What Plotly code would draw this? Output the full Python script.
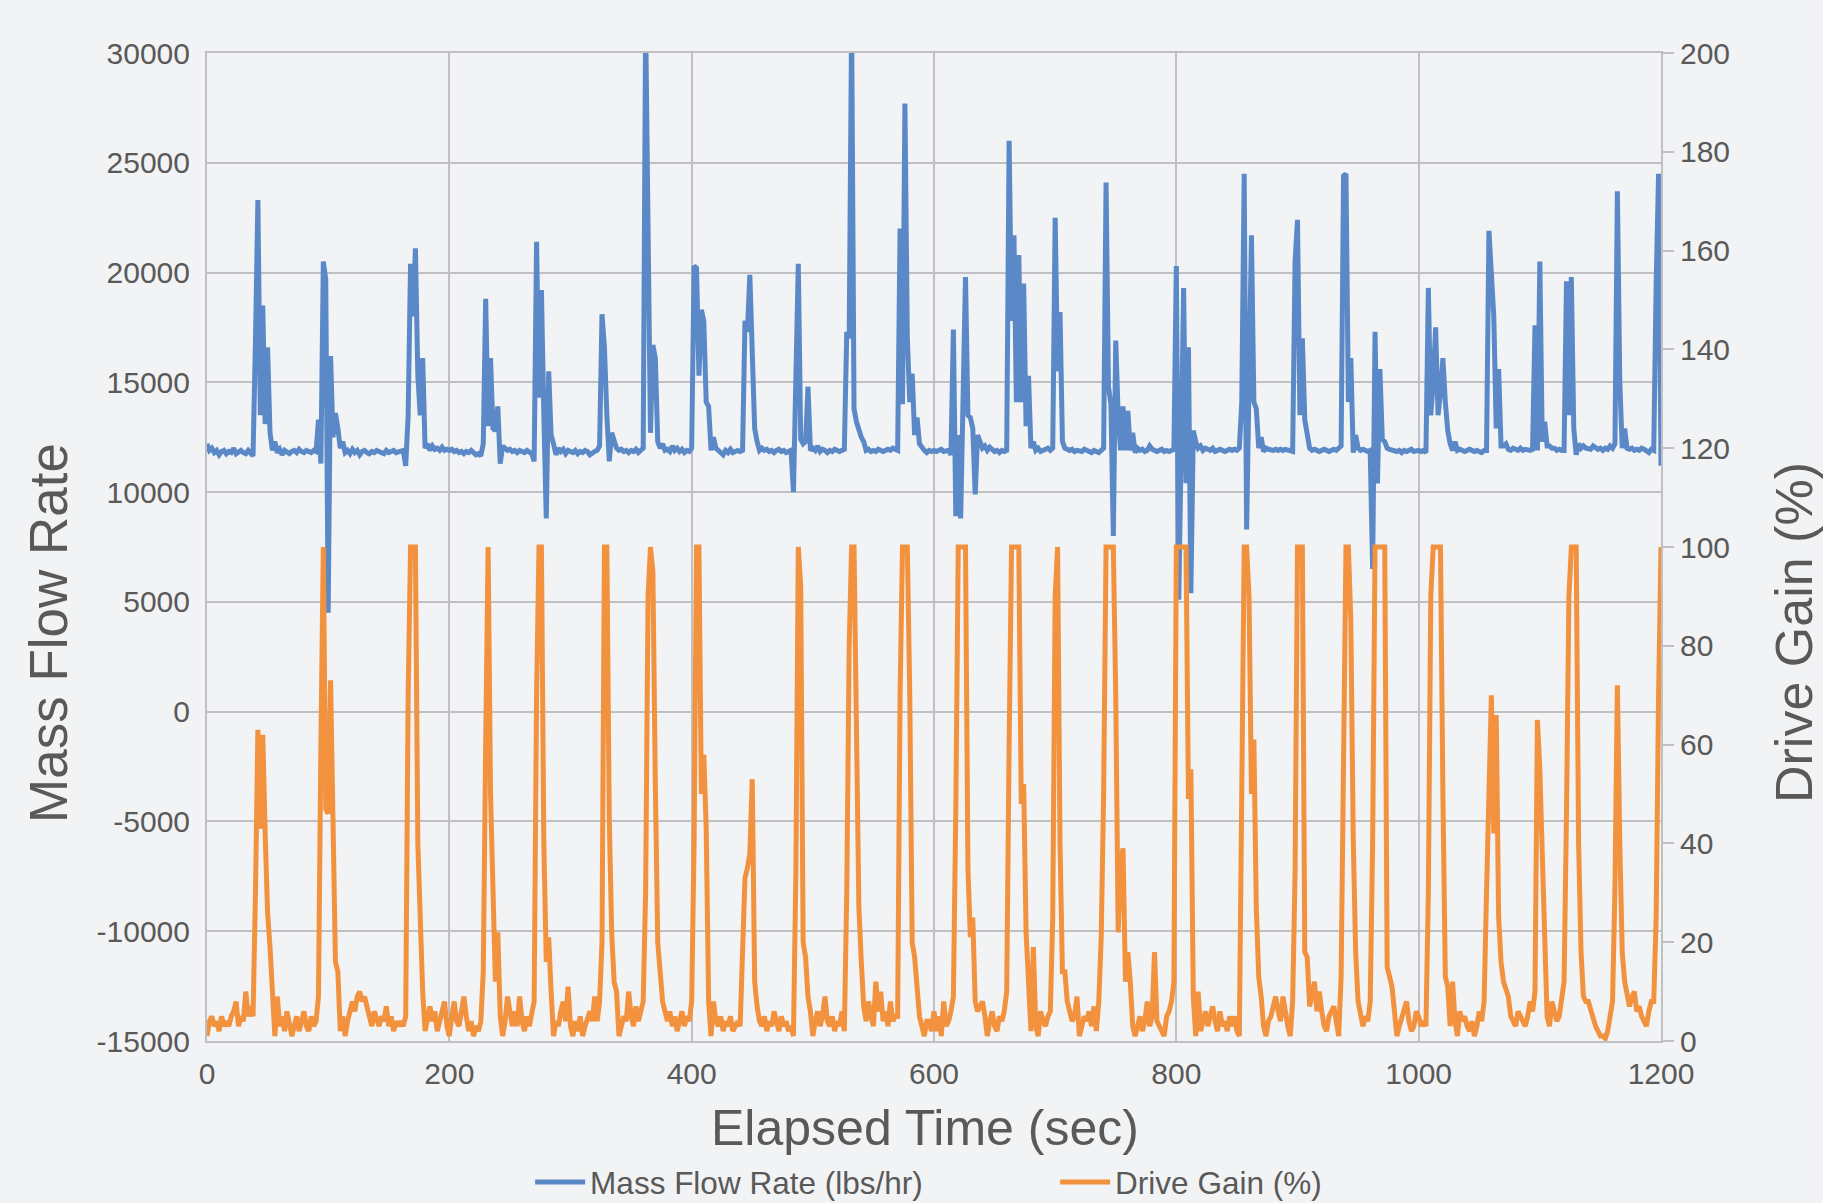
import plotly.graph_objects as go

# ---------------- data ----------------
elapsed_sec = list(range(0, 1201, 2))

mass_flow_lbs_hr = [
    12200, 11900, 12000, 11800, 11900, 11700, 11850, 11900, 11750, 11850,
    11800, 12000, 11750, 11850, 11900, 11800, 11750, 11900, 11800, 11650,
    16900, 23300, 13500, 18500, 13100, 16600, 12700, 11900, 12300, 11800,
    11950, 11700, 11900, 11850, 11750, 11850, 11900, 11800, 11950, 11850,
    11800, 11900, 11850, 11800, 11900, 11850, 13300, 11300, 20500, 19700,
    4500, 16200, 12500, 13600, 12900, 12000, 12300, 11800, 11900, 11750,
    11950, 11800, 11900, 11700, 11850, 11900, 11800, 11750, 11850, 11800,
    11900, 11850, 11800, 11750, 11900, 11800, 11850, 11900, 11800, 11850,
    11850, 11900, 11200, 13500, 20400, 18000, 21100, 15300, 13500, 16100,
    12000, 12200, 11900, 12100, 11950, 12000, 11900, 12050, 11900, 11950,
    11900, 11950, 11850, 11900, 11800, 11850, 11750, 11850, 11800, 11900,
    11800, 11700, 11750, 11650, 12200, 18800, 13000, 16100, 12900, 12800,
    13900, 11300, 12100, 12000, 11900, 11950, 11850, 11900, 11800, 11900,
    11850, 11800, 11900, 11850, 11750, 11400, 21400, 14300, 19200, 13500,
    8800, 15500, 12600, 12200, 11700, 12000, 11850, 11950, 11750, 11900,
    11850, 11800, 11900, 11750, 11850, 11800, 11900, 11850, 11700, 11800,
    11850, 11900, 12100, 18100, 16600, 13500, 11400, 12700, 12400, 12000,
    11900, 11950, 11850, 11900, 11800, 11900, 11850, 11950, 11800, 11900,
    12000, 31500, 20800, 12700, 16700, 16100, 12300, 12000, 12200, 11900,
    11950, 11850, 12100, 11900, 12000, 11850, 11950, 11800, 11900, 11850,
    12000, 20300, 20200, 15300, 18300, 17800, 14100, 13900, 11900, 12500,
    12000, 11900, 11850, 11700, 11900, 11800, 11950, 11800, 11850, 11900,
    11850, 11900, 17800, 17300, 19900, 15200, 12900, 12300, 11900, 12000,
    11900, 11950, 11850, 11900, 11800, 11900, 11950, 11850, 11900, 11800,
    11850, 11900, 10000, 15000, 20400, 12400, 12200, 12300, 14800, 11900,
    12000, 11900, 12100, 11850, 11950, 11900, 11800, 11900, 11850, 11950,
    11900, 11850, 11900, 11950, 17300, 17000, 31500, 13800, 13200, 12800,
    12500, 12300, 11900, 11950, 11850, 11900, 11850, 11950, 11900, 11850,
    11900, 11950, 11900, 12000, 11950, 11900, 22000, 14000, 27700, 17000,
    14100, 15400, 12600, 13400, 12200, 12000, 11900, 11800, 11900, 11850,
    11900, 11850, 11900, 11950, 11850, 11900, 11900, 11700, 17400, 8900,
    12600, 8800, 15400, 19800, 13500, 13400, 12900, 9900, 12600, 12200,
    12000, 12100, 11900, 12050, 11950, 11850, 11900, 11800, 11900, 11850,
    11900, 26000, 17800, 21700, 14100, 20800, 14100, 19500, 13000, 15300,
    12000, 12300, 11900, 12000, 11850, 11900, 11950, 12000, 11900, 12000,
    22500, 15500, 18200, 12300, 12000, 11950, 11900, 11950, 11850, 11900,
    11900, 11850, 11950, 11900, 11850, 11800, 11900, 11850, 11800, 11900,
    12000, 24100, 14800, 14000, 8000, 16900, 13500, 11900, 13900, 11900,
    13700, 11900, 12700, 11800, 12000, 11900, 11950, 11850, 11900, 12100,
    11950, 11900, 11850, 11900, 11950, 11850, 11900, 11850, 11900, 11950,
    20300, 5100, 12000, 19300, 10400, 16600, 5400, 12800, 12300, 12000,
    12100, 11900, 12000, 11950, 11900, 12000, 11850, 11900, 11950, 11900,
    11850, 11900, 11950, 11900, 11950, 11900, 12000, 14100, 24500, 8300,
    14100, 21700, 14100, 13800, 12000, 12500, 11850, 12000, 11950, 11900,
    11900, 11950, 11900, 11950, 11900, 11950, 11900, 11900, 11850, 20500,
    22400, 13500, 17000, 13300, 12600, 12000, 11900, 11950, 11900, 11850,
    11900, 11950, 11900, 11850, 11900, 11950, 11900, 12000, 12100, 24400,
    24500, 14100, 16100, 11800, 12600, 12000, 11900, 11950, 11900, 11850,
    11900, 6500, 17300, 10400, 15600, 12400, 12300, 12000, 11950, 11900,
    11900, 11850, 11900, 11800, 11900, 11850, 11900, 11950, 11850, 11900,
    11900, 11850, 11900, 11800, 19300, 13500, 15000, 17500, 13500, 14500,
    16100, 14100, 12800, 12200, 11900, 12300, 11900, 11950, 11900, 11850,
    11900, 11950, 11900, 11850, 11900, 11850, 11800, 11900, 11900, 21900,
    19500, 18000, 12900, 15600, 12100, 12100, 12200, 11950, 11900, 12000,
    11950, 11900, 12000, 11900, 11950, 11900, 11900, 11950, 17600, 11900,
    20500, 12300, 13200, 12100, 12100, 12000, 12000, 11900, 11950, 11900,
    11900, 19600, 13500, 19800, 12900, 11700, 12200, 12000, 12100, 12000,
    12000, 11950, 12100, 12000, 11950, 12000, 11900, 12000, 11950, 12100,
    12000, 12200, 23700, 15000, 12000, 12900, 12000, 11950, 12000, 11900,
    11950, 11900, 12000, 11950, 11900, 11800, 11950, 11900, 19500, 24500,
    11200,
]

drive_gain_pct = [
    1, 4, 5, 3, 4, 2, 5, 3, 4, 3,
    5, 6, 8, 3, 5, 4, 10, 5, 7, 5,
    30, 63, 43, 62, 42, 26, 19, 10, 1, 9,
    3, 5, 2, 6, 4, 1, 3, 5, 2, 4,
    6, 3, 2, 5, 3, 4, 9, 60, 100, 47,
    46, 73, 42, 16, 14, 2, 5, 1, 4, 6,
    8, 6, 9, 10, 8, 9, 7, 4, 3, 6,
    4, 3, 5, 4, 7, 3, 5, 2, 4, 3,
    4, 3, 5, 70, 100, 100, 100, 40, 24, 10,
    2, 4, 7, 4, 6, 2, 4, 5, 8, 3,
    1, 5, 8, 4, 3, 6, 9, 5, 2, 4,
    1, 3, 2, 4, 14, 60, 100, 50, 31, 12,
    22, 5, 1, 4, 9, 5, 3, 6, 3, 9,
    4, 2, 5, 3, 6, 8, 70, 100, 100, 40,
    16, 21, 10, 1, 4, 3, 6, 8, 4, 11,
    3, 1, 4, 2, 5, 1, 3, 5, 6, 4,
    9, 4, 8, 20, 100, 100, 45, 22, 12, 10,
    1, 3, 5, 4, 10, 5, 3, 7, 4, 6,
    8, 30, 90, 100, 95, 52, 20, 14, 8, 6,
    4, 6, 3, 5, 2, 4, 6, 3, 5, 4,
    8, 40, 100, 100, 50, 58, 43, 8, 1, 8,
    4, 3, 5, 2, 4, 3, 5, 2, 3, 4,
    3, 20, 33, 35, 38, 53, 12, 7, 4, 3,
    5, 2, 4, 3, 6, 4, 2, 5, 3, 4,
    2, 3, 1, 34, 100, 92, 20, 17, 9, 6,
    1, 4, 6, 3, 5, 9, 4, 3, 5, 2,
    4, 3, 6, 2, 30, 80, 100, 100, 60, 27,
    16, 7, 4, 8, 5, 3, 12, 6, 10, 4,
    6, 3, 8, 4, 5, 5, 70, 100, 100, 100,
    70, 20, 17, 9, 5, 3, 1, 4, 4, 2,
    6, 2, 5, 1, 8, 3, 4, 6, 9, 47,
    100, 100, 100, 100, 35, 21, 25, 8, 6, 7,
    8, 5, 1, 4, 6, 3, 2, 5, 4, 6,
    10, 60, 100, 100, 100, 100, 48, 52, 22, 10,
    2, 19, 3, 1, 6, 4, 3, 5, 6, 25,
    90, 100, 40, 14, 14, 8, 6, 4, 5, 9,
    1, 3, 5, 4, 6, 3, 7, 2, 8, 21,
    50, 100, 100, 100, 100, 70, 22, 35, 39, 12,
    18, 12, 3, 1, 3, 5, 2, 4, 8, 3,
    5, 18, 4, 3, 2, 1, 5, 6, 8, 12,
    100, 100, 100, 100, 100, 49, 55, 9, 1, 10,
    2, 4, 6, 3, 5, 7, 4, 2, 6, 3,
    4, 2, 5, 3, 5, 2, 1, 60, 100, 100,
    90, 50, 61, 27, 13, 9, 3, 1, 4, 5,
    7, 9, 6, 4, 9, 5, 3, 1, 8, 34,
    100, 100, 100, 18, 17, 7, 10, 12, 6, 10,
    6, 3, 2, 5, 6, 7, 4, 1, 13, 60,
    100, 100, 85, 41, 18, 8, 5, 3, 5, 4,
    8, 40, 100, 100, 100, 100, 100, 15, 13, 11,
    6, 1, 3, 5, 6, 8, 4, 2, 3, 6,
    5, 3, 4, 3, 30, 90, 100, 100, 100, 100,
    50, 13, 11, 3, 12, 4, 1, 6, 4, 5,
    3, 2, 4, 1, 3, 6, 4, 8, 30, 55,
    70, 42, 66, 25, 16, 12, 10, 9, 5, 4,
    3, 6, 5, 4, 3, 5, 8, 6, 10, 65,
    55, 38, 21, 5, 3, 8, 6, 4, 5, 9,
    12, 46, 90, 100, 100, 100, 40, 18, 9, 8,
    8, 6, 4, 3, 2, 1, 1, 0.5, 2, 6,
    8, 31, 72, 40, 18, 12, 10, 7, 9, 10,
    6, 7, 5, 4, 3, 6, 8, 8, 25, 70,
    100,
]

x_tickvals = [0, 200, 400, 600, 800, 1000, 1200]
left_tickvals = [-15000, -10000, -5000, 0, 5000, 10000, 15000, 20000, 25000, 30000]
left_ticktext = ["-15000", "-10000", "-5000", "0", "5000", "10000", "15000", "20000", "25000", "30000"]
right_tickvals = [0, 20, 40, 60, 80, 100, 120, 140, 160, 180, 200]

series_names = ["Mass Flow Rate (lbs/hr)", "Drive Gain (%)"]
x_title = "Elapsed Time (sec)"
left_title = "Mass Flow Rate"
right_title = "Drive Gain (%)"

# ---------------- styles ----------------
BLUE = "#5B89C7"
ORANGE = "#F2923F"
GRID = "#C0C0C2"
TEXT = "#595959"
BG = "#F1F3F5"
FONT = "Liberation Sans, Arial, Helvetica, sans-serif"

fig = go.Figure()
fig.add_trace(go.Scatter(
    x=elapsed_sec, y=mass_flow_lbs_hr, name=series_names[0], mode="lines",
    line=dict(color=BLUE, width=5), yaxis="y"))
fig.add_trace(go.Scatter(
    x=elapsed_sec, y=drive_gain_pct, name=series_names[1], mode="lines",
    line=dict(color=ORANGE, width=5), yaxis="y2"))

fig.update_layout(
    width=1823, height=1203,
    margin=dict(l=207, r=162, t=53, b=162, autoexpand=False),
    paper_bgcolor=BG, plot_bgcolor=BG,
    font=dict(family=FONT, color=TEXT, size=30),
    showlegend=True,
    legend=dict(orientation="h", x=0.5833, xanchor="center", y=-0.1427,
                yanchor="middle", font=dict(size=31.5, color=TEXT),
                itemwidth=50, entrywidth=460, bgcolor="rgba(0,0,0,0)"),
    xaxis=dict(range=[0, 1200], tickvals=x_tickvals, showgrid=True,
               gridcolor=GRID, gridwidth=2, zeroline=False, showline=True,
               linecolor=GRID, linewidth=2, mirror=True, ticks="",
               tickfont=dict(size=30, color=TEXT), ticklabelstandoff=5),
    yaxis=dict(range=[-15000, 30000], tickvals=left_tickvals,
               ticktext=left_ticktext, showgrid=True, gridcolor=GRID,
               gridwidth=2, zeroline=False, showline=True, linecolor=GRID,
               linewidth=2, ticks="", tickfont=dict(size=30, color=TEXT),
               ticklabelstandoff=9),
    yaxis2=dict(range=[0, 200], overlaying="y", side="right",
                tickvals=right_tickvals, showgrid=False, zeroline=False,
                showline=True, linecolor=GRID, linewidth=2, ticks="outside",
                ticklen=11, tickcolor=GRID, tickwidth=2,
                tickfont=dict(size=30, color=TEXT), ticklabelstandoff=0),
    annotations=[
        dict(text=x_title, xref="paper", yref="paper", x=0.4935, y=-0.088,
             xanchor="center", yanchor="middle", showarrow=False,
             font=dict(size=50, color=TEXT)),
        dict(text=left_title, xref="paper", yref="paper", x=-0.1087, y=0.413,
             xanchor="center", yanchor="middle", showarrow=False,
             textangle=-90, font=dict(size=53, color=TEXT)),
        dict(text=right_title, xref="paper", yref="paper", x=1.0915, y=0.413,
             xanchor="center", yanchor="middle", showarrow=False,
             textangle=-90, font=dict(size=52, color=TEXT)),
    ],
)

fig.write_html("out.html", post_script="document.body.style.margin='0';")
